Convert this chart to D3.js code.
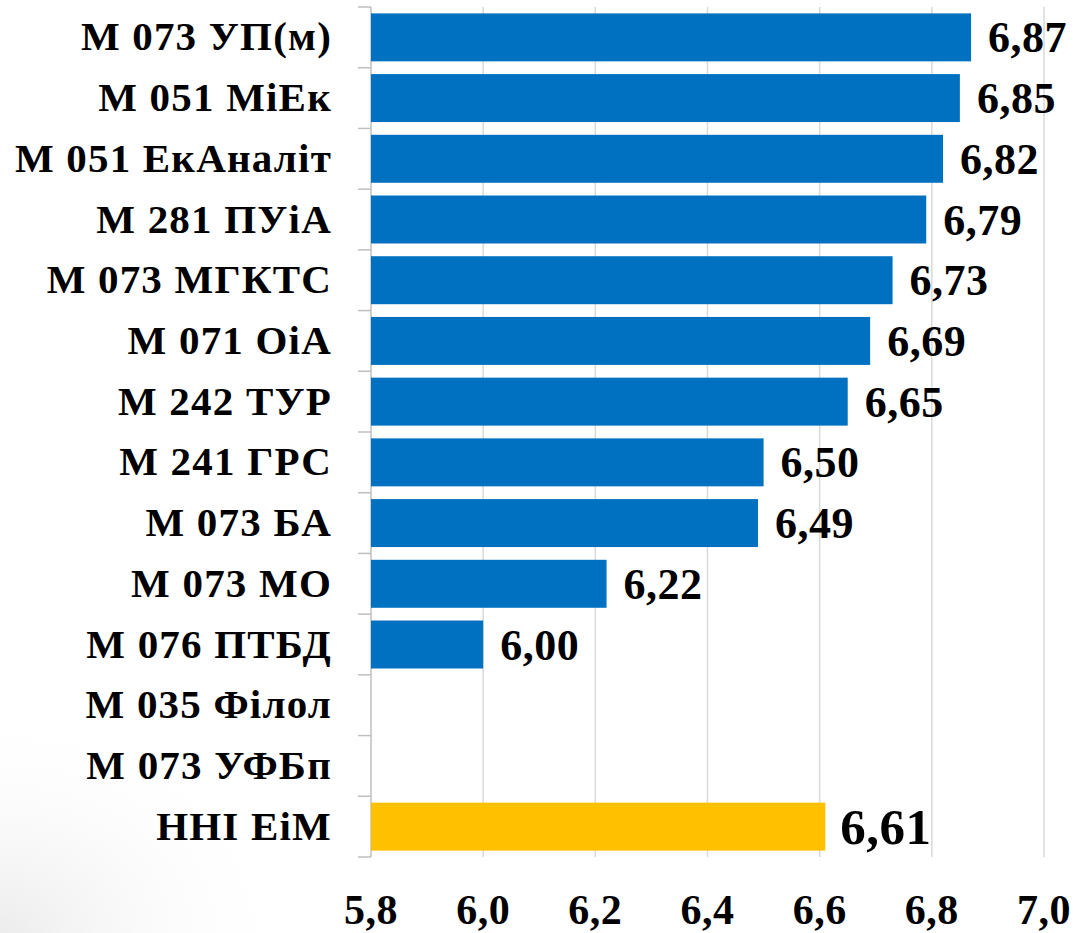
<!DOCTYPE html>
<html><head><meta charset="utf-8">
<script src="https://cdn.jsdelivr.net/npm/d3@7"></script>
<style>
html,body{margin:0;padding:0;background:#fff;}
svg{display:block;}
text{font-family:"Liberation Serif","Times New Roman",serif;font-weight:bold;fill:#000;}
</style></head>
<body>
<script>
const categories = ["М 073 УП(м)","М 051 МіЕк","М 051 ЕкАналіт","М 281 ПУіА","М 073 МГКТС","М 071 ОіА","М 242 ТУР","М 241 ГРС","М 073 БА","М 073 МО","М 076 ПТБД","М 035 Філол","М 073 УФБп","ННІ ЕіМ"];
const values = [6.87,6.85,6.82,6.79,6.73,6.69,6.65,6.50,6.49,6.22,6.00,null,null,6.61];
const highlight = [false,false,false,false,false,false,false,false,false,false,false,false,false,true];
const xTicks = [5.8,6.0,6.2,6.4,6.6,6.8,7.0];

(function(){
const W=1079,H=933;
const svg=d3.select("body").append("svg").attr("width",W).attr("height",H);

const defs=svg.append("defs");
const rg=defs.append("radialGradient").attr("id","bg").attr("cx","0").attr("cy","1").attr("r","1");
rg.append("stop").attr("offset","0").attr("stop-color","#ececec");
rg.append("stop").attr("offset","1").attr("stop-color","#ffffff").attr("stop-opacity",0);
svg.append("rect").attr("x",0).attr("y",700).attr("width",300).attr("height",233).attr("fill","url(#bg)");

const pL=371,pR=1044,pT=7,pB=857;
const x=d3.scaleLinear().domain([5.8,7.0]).range([pL,pR]);
const y=d3.scaleBand().domain(categories).range([pT,pB]).paddingInner(0.21).paddingOuter(0.105);
const step=(pB-pT)/categories.length;

svg.append("g").selectAll("line").data(xTicks.slice(1)).join("line")
  .attr("x1",d=>x(d)).attr("x2",d=>x(d)).attr("y1",pT).attr("y2",pB)
  .attr("stroke","#d9d9d9").attr("stroke-width",1.5);

svg.append("line").attr("x1",pL).attr("x2",pL).attr("y1",pT).attr("y2",pB)
  .attr("stroke","#bfbfbf").attr("stroke-width",1.5);
svg.append("g").selectAll("line").data(d3.range(categories.length+1)).join("line")
  .attr("x1",pL-13).attr("x2",pL).attr("y1",i=>pT+i*step).attr("y2",i=>pT+i*step)
  .attr("stroke","#bfbfbf").attr("stroke-width",1.5);

const data=categories.map((c,i)=>({c,v:values[i],h:highlight[i]}));

svg.append("g").selectAll("rect").data(data.filter(d=>d.v!=null)).join("rect")
  .attr("x",x(5.8)).attr("y",d=>y(d.c)).attr("width",d=>x(d.v)-x(5.8)).attr("height",y.bandwidth())
  .attr("fill",d=>d.h?"#FFC000":"#0070C0");

const fmt=v=>d3.format(".2f")(v).replace(".",",");

svg.append("g").selectAll("text").data(data.filter(d=>d.v!=null)).join("text")
  .attr("x",d=>x(d.v)+(d.h?15:17)).attr("y",d=>y(d.c)+y.bandwidth()/2+(d.h?17:15))
  .style("font-size",d=>d.h?"51px":"44px")
  .style("letter-spacing","0.5px")
  .text(d=>fmt(d.v));

svg.append("g").selectAll("text").data(data).join("text")
  .attr("x",332).attr("y",d=>y(d.c)+y.bandwidth()/2+13)
  .attr("text-anchor","end").style("font-size","41px")
  .style("letter-spacing","1.2px")
  .text(d=>d.c);

svg.append("g").selectAll("text").data(xTicks).join("text")
  .attr("x",d=>x(d)).attr("y",924).attr("text-anchor","middle").style("font-size","42px")
  .style("letter-spacing","0.5px")
  .text(d=>d3.format(".1f")(d).replace(".",","));
})();
</script>
</body></html>
